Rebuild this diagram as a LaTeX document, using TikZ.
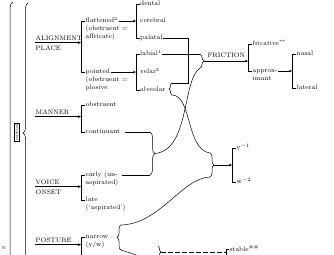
\documentclass[tikz,border=0pt]{standalone}
\usepackage{tikz}
\usetikzlibrary{arrows.meta,decorations.pathreplacing}

\begin{document}
\begin{tikzpicture}[x=1pt,y=-1pt,
    lab/.style={anchor=west, inner sep=0.5pt, text height=4.6pt, text depth=1.4pt,
      font=\fontsize{6.5}{7.5}\selectfont},
    feed/.style={-{Stealth[length=3pt,width=2.6pt]}, line width=0.5pt},
    brk/.style={line width=0.5pt},
    link/.style={line width=0.5pt},
    curly/.style={decorate, decoration={brace, amplitude=#1}, line width=0.5pt},
  ]
  \useasboundingbox (0,0) rectangle (334,254);
  \clip (0,0) rectangle (334,254);

  % long braces down the left side
  \draw[curly=6pt] (13,530) -- (13,2);
  \draw[curly=5pt] (28,263) -- (28,3);
  \node[draw, rotate=90, inner sep=0.6pt, line width=0.3pt,
    font=\fontsize{4.5}{5}\selectfont] (initial) at (16.5,132) {initial};
  \node[inner sep=0pt, font=\fontsize{4}{4}\selectfont] (nmark) at (3.5,248) {N};

  % feature headings
  \node[lab] (align) at (35,39) {ALIGNMENT};
  \node[lab] (place) at (35,49) {PLACE};
  \node[lab] (manner) at (35,113) {MANNER};
  \node[lab] (voice) at (35,183) {VOICE};
  \node[lab] (onset) at (35,193) {ONSET};
  \node[lab] (posture) at (35,241) {POSTURE};

  % first column of values
  \node[lab] (flat) at (85,21) {flattened\textsuperscript{2}};
  \node[lab] (flatob) at (85,29) {(obstruent =};
  \node[lab] (flataf) at (85,37) {affricate)};
  \node[lab] (point) at (85,72) {pointed};
  \node[lab] (pointob) at (85,80) {(obstruent =};
  \node[lab] (pointpl) at (85,88) {plosive};
  \node[lab] (obstr) at (85,105) {obstruent};
  \node[lab] (contin) at (85,132) {continuant};
  \node[lab] (early) at (85,175) {early (un-};
  \node[lab] (earlyasp) at (85,183) {aspirated)};
  \node[lab] (late) at (85,200) {late};
  \node[lab] (lateasp) at (85,208) {(`aspirated')};
  \node[lab] (narrow) at (85,237) {narrow};
  \node[lab] (narrowyw) at (85,245) {(y/w)};

  \coordinate (brA) at (81,0);
  \coordinate (postend) at (81,262);
  \draw[brk] (flat.west) -| (brA |- point.west) -- (point.west);
  \draw[feed] (align.south west) -- (align.south west -| brA);
  \draw[brk] (obstr.west) -| (brA |- contin.west) -- (contin.west);
  \draw[feed] (manner.south west) -- (manner.south west -| brA);
  \draw[brk] (early.west) -| (brA |- late.west) -- (late.west);
  \draw[feed] (voice.south west) -- (voice.south west -| brA);
  \draw[brk] (narrow.west) -| (postend);
  \draw[feed] (posture.south west) -- (posture.south west -| brA);

  % second column: places
  \node[lab] (dental) at (139.5,4) {dental};
  \node[lab] (cerebral) at (139.5,21) {cerebral};
  \node[lab] (palatal) at (139.5,38) {palatal};
  \node[lab] (labial) at (139.5,54) {labial\textsuperscript{1}};
  \node[lab] (velar) at (139.5,72) {velar\textsuperscript{2}};
  \node[lab] (alveolar) at (139.5,90) {alveolar};

  \coordinate (brB) at (136,0);
  \draw[brk] (dental.west) -| (brB |- palatal.west) -- (palatal.west);
  \draw[feed] (flat.east) -- (flat.east -| brB);
  \draw[brk] (labial.west) -| (brB |- alveolar.west) -- (alveolar.west);
  \draw[feed] (point.east) -- (point.east -| brB);

  % friction
  \coordinate (alvtop) at (172,83);
  \coordinate (alvbot) at (172,95);
  \coordinate (junc) at (188,83);
  \draw[curly=3pt] (alvbot) -- (alvtop);
  \draw[link] (palatal.east) -| (junc) -- (alvtop);

  \coordinate (frtop) at (200,54);
  \coordinate (frbot) at (200,68);
  \coordinate (frtip) at (204,61);
  \draw[curly=4pt] (frtop) -- (frbot);
  \draw[link] (labial.east) -- (frtop);
  \node[lab, anchor=south west] (friction) at (207,59.5) {FRICTION};

  \coordinate (brC) at (248,0);
  \node[lab] (fricative) at (252,44) {fricative\textsuperscript{**}};
  \node[lab] (approx) at (252,71) {approx-};
  \node[lab] (approxim) at (252,79) {imant};
  \draw[feed] (frtip) -- (frtip -| brC);
  \draw[brk] (fricative.west) -| (brC |- approx.west) -- (approx.west);

  \coordinate (brD) at (292,0);
  \node[lab] (nasal) at (296,54) {nasal};
  \node[lab] (lateral) at (296,88) {lateral};
  \draw[feed] (approx.east) -- (approx.east -| brD);
  \draw[brk] (nasal.west) -| (brD |- lateral.west) -- (lateral.west);

  % continuant + early brace feeding friction
  \coordinate (cotop) at (150,132);
  \coordinate (cobot) at (150,175);
  \coordinate (cotip) at (155,153.5);
  \draw[curly=5pt] (cotop) -- (cobot);
  \draw[link] ([xshift=4pt]contin.east) -- (cotop);
  \draw[link] ([xshift=4pt]early.east) -- (cobot);
  \draw[link] (frbot) .. controls (182,80) and (190,150) .. (cotip);

  % glides
  \coordinate (ywtop) at (210,153);
  \coordinate (ywbot) at (210,177);
  \coordinate (ywtip) at (214,165);
  \draw[curly=4pt] (ywtop) -- (ywbot);
  \draw[link] (alvbot) .. controls (192,95) and (186,150) .. (ywtop);

  \coordinate (brE) at (232,0);
  \node[lab] (ym) at (236,148) {y\textsuperscript{$-1$}};
  \node[lab] (wm) at (236,182) {w\textsuperscript{$-2$}};
  \draw[feed] (ywtip) -- (ywtip -| brE);
  \draw[brk] (ym.west) -| (brE |- wm.west) -- (wm.west);

  \coordinate (nwtop) at (121,225);
  \coordinate (nwbot) at (121,250);
  \coordinate (nwoff) at (155,261);
  \draw[curly=4pt] (nwbot) -- (nwtop);
  \draw[link] (nwtop) .. controls (160,224) and (182,178) .. (ywbot);
  \draw[link] (nwbot) -- (nwoff);

  % stable
  \coordinate (sttop) at (158,246);
  \coordinate (stbot) at (158,258);
  \coordinate (sttip) at (161,252);
  \draw[curly=3pt] (sttop) -- (stbot);
  \coordinate (brF) at (226,0);
  \coordinate (stoff) at (226,262);
  \node[lab] (stable) at (229,249.5) {stable\textsuperscript{\#\#}};
  \draw[link, dash pattern=on 5pt off 2pt] (sttip) -- (sttip -| brF);
  \draw[brk] (stable.west) -| (stoff);
\end{tikzpicture}
\end{document}
